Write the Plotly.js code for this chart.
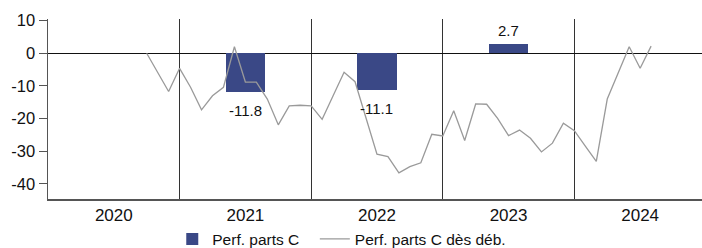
<!DOCTYPE html>
<html>
<head>
<meta charset="utf-8">
<script src="https://cdn.plot.ly/plotly-3.0.1.min.js"></script>
<style>html,body{margin:0;padding:0;background:#fff;}#chart{width:702px;height:248px;}</style>
</head>
<body>
<div id="chart"></div>
<script>
// Categories (years)
var years = ['2020', '2021', '2022', '2023', '2024'];
// Annual performance, C shares (%)
var barValues = [null, -11.8, -11.1, 2.7, null];
// Performance since launch, C shares (%), month-end
var lineMonths = ['2020-09','2020-10','2020-11','2020-12','2021-01','2021-02','2021-03','2021-04','2021-05',
  '2021-06','2021-07','2021-08','2021-09','2021-10','2021-11','2021-12',
  '2022-01','2022-02','2022-03','2022-04','2022-05','2022-06','2022-07','2022-08','2022-09','2022-10','2022-11','2022-12',
  '2023-01','2023-02','2023-03','2023-04','2023-05','2023-06','2023-07','2023-08','2023-09','2023-10','2023-11','2023-12',
  '2024-01','2024-02','2024-03','2024-04','2024-05','2024-06','2024-07'];
var lineValues = [0, -5.8, -11.7, -4.6, -10.4, -17.3, -13.0, -10.4, 2.0,
  -8.8, -8.8, -14.0, -21.9, -16.1, -15.9, -16.1,
  -20.2, -13.0, -5.8, -8.7, -19.6, -30.9, -31.6, -36.6, -34.7, -33.5, -24.8, -25.3,
  -17.6, -26.7, -15.5, -15.6, -19.9, -25.2, -23.5, -26.0, -30.2, -27.5, -21.4, -23.7,
  -28.4, -33.1, -14.0, -6.1, 2.0, -4.6, 2.2];

var firstYear = parseInt(years[0], 10);
var barX = years.map(function (y, i) { return i + 0.5; });
var lineX = lineMonths.map(function (m) {
  var p = m.split('-');
  return (parseInt(p[0], 10) - firstYear) + parseInt(p[1], 10) / 12;
});

var font = 'Liberation Sans, Arial, sans-serif';
var textColor = '#111';

var traces = [
  {
    type: 'bar', name: 'Perf. parts C', x: barX, y: barValues,
    width: 0.3, marker: {color: '#3a4886'}, legend: 'legend',
    hoverinfo: 'skip'
  },
  {
    type: 'scatter', mode: 'lines', name: 'Perf. parts C dès déb.',
    x: lineX, y: lineValues, legend: 'legend2',
    line: {color: '#9a9a9a', width: 1.3},
    hoverinfo: 'skip'
  }
];

var annotations = [];
barValues.forEach(function (v, i) {
  if (v === null) return;
  annotations.push({
    x: barX[i], y: v, xref: 'x', yref: 'y', text: v.toFixed(1), showarrow: false,
    yanchor: v < 0 ? 'top' : 'bottom', yshift: v < 0 ? -8 : 3,
    font: {family: font, size: 15, color: textColor}
  });
});

var legendBase = {orientation: 'h', xanchor: 'left', y: -0.13, yanchor: 'top',
  bgcolor: 'rgba(0,0,0,0)', font: {family: font, size: 15.5, color: textColor}};

var layout = {
  width: 702, height: 248,
  margin: {l: 48, r: 0, t: 19, b: 49, autoexpand: false},
  paper_bgcolor: '#fff', plot_bgcolor: '#fff',
  font: {family: font, size: 15, color: textColor},
  showlegend: true,
  legend: Object.assign({}, legendBase, {x: 0.19}),
  legend2: Object.assign({}, legendBase, {x: 0.408}),
  annotations: annotations,
  xaxis: {
    range: [0, 4.97], tickmode: 'array', tickvals: barX, ticktext: years,
    showline: true, linecolor: '#555', linewidth: 1.5, ticks: '', showgrid: false,
    zeroline: false, fixedrange: true,
    tickfont: {family: font, size: 17, color: textColor},
    minor: {tickmode: 'linear', tick0: 0, dtick: 1, showgrid: true, gridcolor: '#333', gridwidth: 1, ticks: ''}
  },
  yaxis: {
    range: [-44.6, 10.5], tickmode: 'array', tickvals: [-40, -30, -20, -10, 0, 10],
    ticktext: ['-40', '-30', '-20', '-10', '0', '10'],
    showline: true, linecolor: '#555', linewidth: 1.5, ticks: 'outside', ticklen: 8,
    tickcolor: '#555', showgrid: false, zeroline: true, zerolinecolor: '#111', zerolinewidth: 1,
    fixedrange: true, tickfont: {family: font, size: 16.5, color: textColor}
  },
  bargap: 0
};

Plotly.newPlot('chart', traces, layout, {displayModeBar: false, staticPlot: true});
</script>
</body>
</html>
